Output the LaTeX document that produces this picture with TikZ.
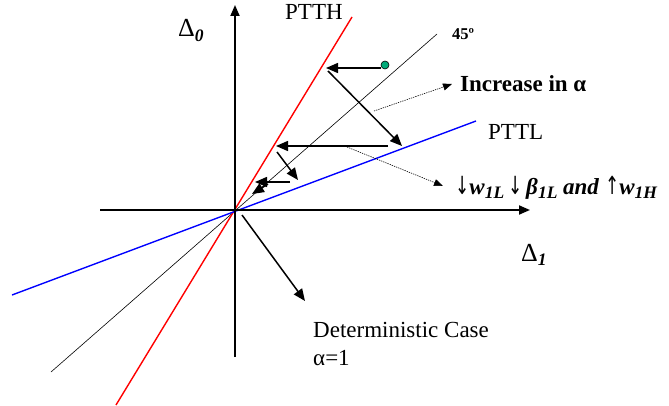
\documentclass[tikz,border=0pt]{standalone}
\usepackage{graphicx}
\usepackage{fontspec}
\setmainfont{Liberation Serif}
\newfontfamily\arrowfont{DejaVu Sans}
\usetikzlibrary{arrows.meta}
\definecolor{dotgreen}{RGB}{0,170,120}
\newcommand\sbx[1]{\raisebox{-0.35ex}{\fontsize{17.5}{17.5}\selectfont\bfseries\itshape #1}}
\newcommand\arw[1]{\scalebox{0.68}[1]{\arrowfont\fontsize{25}{25}\selectfont #1}}
\begin{document}
\begin{tikzpicture}[x=1pt,y=-1pt,
  axisline/.style={line width=1.8pt,-{Triangle[length=11pt,width=9pt]}},
  movearrow/.style={line width=1.5pt,-{Triangle[length=12pt,width=10pt]}},
  dotarrow/.style={line width=0.6pt,dash pattern=on 1.3pt off 1pt,-{Triangle[length=9pt,width=7pt]}},
  lbl/.style={anchor=base west,inner sep=0pt,font=\fontsize{23}{28}\selectfont},
  blbl/.style={lbl,font=\fontsize{23}{28}\selectfont\bfseries},
  dlbl/.style={lbl,font=\fontsize{26}{30}\selectfont},
  curve/.style={line width=1.4pt}]
\useasboundingbox (0,0) rectangle (669,406);
% coordinates
\coordinate (O) at (235,211);
\coordinate (vb) at (235,357);
\coordinate (vt) at (235,5);
\coordinate (hl) at (100,210);
\coordinate (hr) at (530,210);
\coordinate (r1) at (116,405);
\coordinate (r2) at (352,17);
\coordinate (b1) at (12,295);
\coordinate (b2) at (476,121);
\coordinate (f1) at (51,372);
\coordinate (f2) at (437,34);
% lines
\draw[line width=0.6pt] (f1) -- (f2);
\draw[curve,red] (r1) -- (r2);
\draw[curve,blue] (b1) -- (b2);
\draw[axisline] (vb) -- (vt);
\draw[axisline] (hl) -- (hr);
% moves
\coordinate (p0) at (381,68);
\coordinate (p1) at (326,68);
\coordinate (p1s) at (328,71);
\coordinate (p2) at (402,146);
\coordinate (p2s) at (388,146);
\coordinate (p3) at (276,146);
\coordinate (p3s) at (277,152);
\coordinate (p4) at (298,180);
\coordinate (p4s) at (290,182);
\coordinate (p5) at (255,182);
\coordinate (p5s) at (268,184);
\coordinate (p6) at (252,194);
\draw[movearrow] (p0) -- (p1);
\draw[movearrow] (p1s) -- (p2);
\draw[movearrow] (p2s) -- (p3);
\draw[movearrow] (p3s) -- (p4);
\draw[movearrow] (p4s) -- (p5);
\draw[movearrow] (p5s) -- (p6);
\node[circle,draw=black,line width=0.6pt,fill=dotgreen,inner sep=0pt,minimum size=8pt] (dot) at (385,65) {};
% deterministic
\coordinate (d0) at (242,215);
\coordinate (d1) at (305,301);
\draw[movearrow] (d0) -- (d1);
% dotted
\coordinate (q0) at (374,111);
\coordinate (q1) at (452,84);
\coordinate (s0) at (347,147);
\coordinate (s1) at (443,186);
\draw[dotarrow] (q0) -- (q1);
\draw[dotarrow] (s0) -- (s1);
% labels
\node[lbl] (ptth) at (285,20) {PTTH};
\node[lbl] (pttl) at (488,140) {PTTL};
\node[anchor=base west,inner sep=0pt,font=\fontsize{16.5}{16}\selectfont\bfseries] (ff) at (452,40) {45º};
\node[blbl] (inc) at (460,92) {Increase in α};
\node[lbl] (chg) at (455,195) {\arw{↓}\textbf{\textit{w}}\sbx{1L}\,\arw{↓}\,\textbf{\textit{β}}\sbx{1L} \textbf{\textit{and}} \arw{↑}\textbf{\textit{w}}\sbx{1H}};
\node[dlbl] (d0lbl) at (178,37) {Δ\sbx{0}};
\node[dlbl] (d1lbl) at (521,261) {Δ\sbx{1}};
\node[lbl] (det1) at (313,337) {Deterministic Case};
\node[lbl] (det2) at (313,365) {α=1};
\end{tikzpicture}
\end{document}
